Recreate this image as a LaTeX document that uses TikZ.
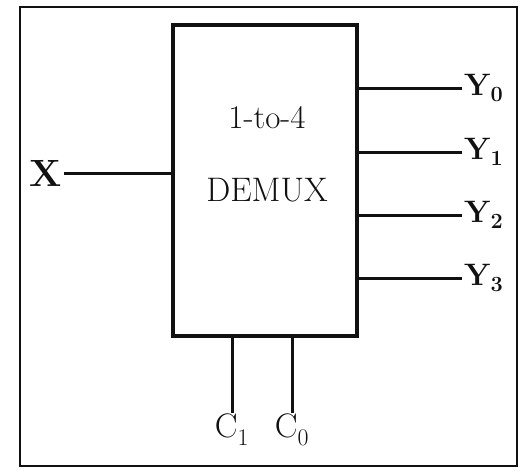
\documentclass[tikz,border=0pt]{standalone}
\usepackage{amsmath}
\usepackage{fontspec}
\usepackage{tikz}
\usetikzlibrary{arrows.meta,positioning,calc}
\definecolor{Ink}{HTML}{111111}

\begin{document}
\begin{tikzpicture}[x=1pt,y=-1pt,
  wire/.style={draw=Ink,line width=3pt},
  pin/.style={text=Ink,font=\fontsize{31}{33}\selectfont\bfseries,inner sep=2pt},
  sel/.style={text=Ink,font=\fontsize{34}{36}\selectfont,inner sep=1pt}]
  \useasboundingbox (0,0) rectangle (521,472);
  \draw[Ink,line width=2.6pt] (20,7) rectangle (517,466);
  % the demux block
  \node[draw=Ink,line width=3.2pt,minimum width=184pt,minimum height=311pt,inner sep=0pt] (demux) at (265,180.5) {};
  \node[text=Ink,font=\fontsize{33}{35}\selectfont] (title) at (267,118) {1-to-4};
  \node[text=Ink,font=\fontsize{34}{36}\selectfont] (name) at (267,190) {DEMUX};
  % input
  \node[pin,font=\fontsize{38}{40}\selectfont\bfseries] (x) at (46,173) {X};
  \draw[wire] (x.east) -- (x.east -| demux.west);
  % outputs
  \foreach \i/\yy in {0/88,1/152,2/215,3/278} {
    \coordinate (e\i) at (462,\yy);
    \draw[wire] (e\i -| demux.east) -- (e\i);
    \node[pin,anchor=west] (y\i) at (e\i) {Y\textsubscript{\i}};
  }
  % select lines
  \foreach \i/\xx in {1/232,0/292} {
    \coordinate (s\i) at (\xx,413);
    \draw[wire] (s\i |- demux.south) -- (s\i);
    \node[sel,anchor=north] (c\i) at (s\i) {C\textsubscript{\i}};
  }
\end{tikzpicture}
\end{document}
